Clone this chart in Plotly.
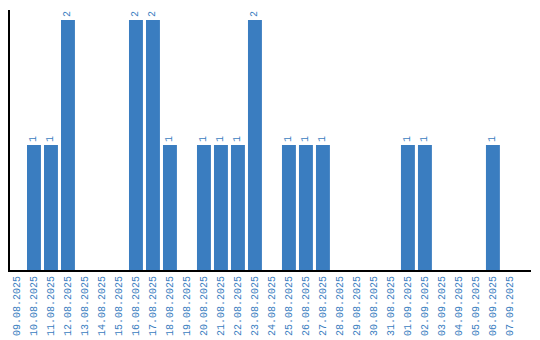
import plotly.graph_objects as go

dates = ["09.08.2025","10.08.2025","11.08.2025","12.08.2025","13.08.2025","14.08.2025",
         "15.08.2025","16.08.2025","17.08.2025","18.08.2025","19.08.2025","20.08.2025",
         "21.08.2025","22.08.2025","23.08.2025","24.08.2025","25.08.2025","26.08.2025",
         "27.08.2025","28.08.2025","29.08.2025","30.08.2025","31.08.2025","01.09.2025",
         "02.09.2025","03.09.2025","04.09.2025","05.09.2025","06.09.2025","07.09.2025"]
counts = [0,1,1,2,0,0,0,2,2,1,0,1,1,1,2,0,1,1,1,0,0,0,0,1,1,0,0,0,1,0]

color = "#3a7dc0"
labels = [str(c) if c > 0 else "" for c in counts]
font = "Liberation Mono"

fig = go.Figure(go.Bar(
    x=dates, y=counts, marker_color=color, marker_line_width=0,
    text=labels, textposition="outside", textangle=-90,
    textfont=dict(family=font, size=10, color=color),
    cliponaxis=False,
))
fig.update_layout(
    width=540, height=340,
    margin=dict(l=10, r=9, t=10, b=70, autoexpand=False),
    paper_bgcolor="white", plot_bgcolor="white",
    bargap=0.18, showlegend=False,
)
fig.update_xaxes(type="category", tickangle=-90, showline=True, linecolor="black", linewidth=2,
                 tickfont=dict(family=font, size=10, color=color), automargin=False,
                 range=[-0.41, 30.24], showgrid=False, ticks="")
fig.update_yaxes(range=[0, 2.08], showline=True, linecolor="black", linewidth=2,
                 showticklabels=False, showgrid=False, zeroline=False, ticks="")
fig.write_html("out.html")
